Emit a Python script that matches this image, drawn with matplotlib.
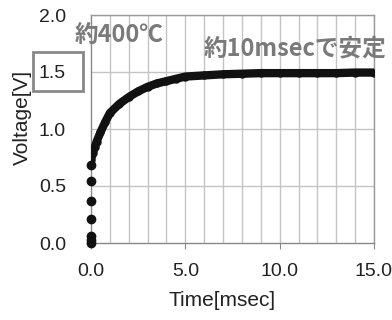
import matplotlib.pyplot as plt
from matplotlib.patches import Rectangle

# 立ち上がり部分 (t=0 付近の点)
t_start = [0.0, 0.0, 0.0, 0.0, 0.0, 0.0, 0.0]
v_start = [0.0, 0.03, 0.06, 0.21, 0.37, 0.54, 0.68]

# 曲線部分
t_curve = [0.0, 0.1, 0.2, 0.3, 0.5, 0.75, 1.0, 1.5, 2.0, 2.5, 3.0, 3.5, 4.0,
           4.5, 5.0, 6.0, 7.0, 8.0, 9.0, 10.0, 11.0, 12.0, 13.0, 14.0, 15.0]
v_curve = [0.73, 0.79, 0.84, 0.89, 0.97, 1.06, 1.14, 1.22, 1.28, 1.33, 1.37,
           1.40, 1.42, 1.44, 1.46, 1.47, 1.48, 1.485, 1.49, 1.49, 1.49, 1.49,
           1.49, 1.495, 1.495]

x_ticks = [0, 5, 10, 15]
x_labels = ['0.0', '5.0', '10.0', '15.0']
y_ticks = [0, 0.5, 1.0, 1.5, 2.0]
y_labels = ['0.0', '0.5', '1.0', '1.5', '2.0']

plt.rcParams['font.family'] = ['Liberation Sans', 'DejaVu Sans']
W, H = 392, 320
fig = plt.figure(figsize=(W / 100, H / 100), dpi=100)
ax = fig.add_axes([91 / W, 1 - 243 / H, (374 - 91) / W, (243 - 15) / H])

# グリッド
for x in range(1, 16):
    ax.axvline(x, color='#c4c4c4', lw=1.0, zorder=0)
for y in y_ticks[1:]:
    ax.axhline(y, color='#c4c4c4', lw=1.0, zorder=0)

ax.plot(t_curve, v_curve, color='#111111', lw=6, solid_capstyle='round', zorder=3)
ax.plot(t_curve, v_curve, 'o', color='#111111', ms=5, zorder=3)
ax.plot(t_start, v_start, 'o', color='#111111', ms=6, zorder=3, clip_on=False)

ax.set_xlim(0, 15)
ax.set_ylim(0, 2.0)
ax.set_xticks(x_ticks)
ax.set_xticklabels(x_labels)
ax.set_yticks(y_ticks)
ax.set_yticklabels(y_labels)
ax.tick_params(axis='x', length=4, color='#888888', pad=10.5, labelsize=14, labelcolor='#222222')
ax.tick_params(axis='y', length=0, pad=18, labelsize=14, labelcolor='#222222')
for s in ax.spines.values():
    s.set_color('#999999')
    s.set_linewidth(1.0)
ax.spines['left'].set_color('#888888')
ax.spines['bottom'].set_color('#888888')

fig.text(222 / W, 1 - 300 / H, 'Time[msec]', fontsize=15, color='#222222',
         ha='center', va='center')
fig.text(22 / W, 1 - 117 / H, 'Voltage[V]', rotation=90, fontsize=15,
         color='#222222', ha='center', va='center')

jp = ['Noto Sans CJK JP', 'DejaVu Sans']
fig.text(119.5 / W, 1 - 35 / H, '約400℃', family=jp, fontsize=17,
         fontweight='bold', color='#7a7a7a', ha='center', va='center')
fig.text(295 / W, 1 - 48.5 / H, '約10msecで安定', family=jp, fontsize=17,
         fontweight='bold', color='#7a7a7a', ha='center', va='center')

fig.patches.append(Rectangle((33 / W, 1 - 91 / H), 50 / W, 39 / H,
                             transform=fig.transFigure, fill=False,
                             edgecolor='#888888', lw=2))

fig.savefig('out.png', dpi=100)
